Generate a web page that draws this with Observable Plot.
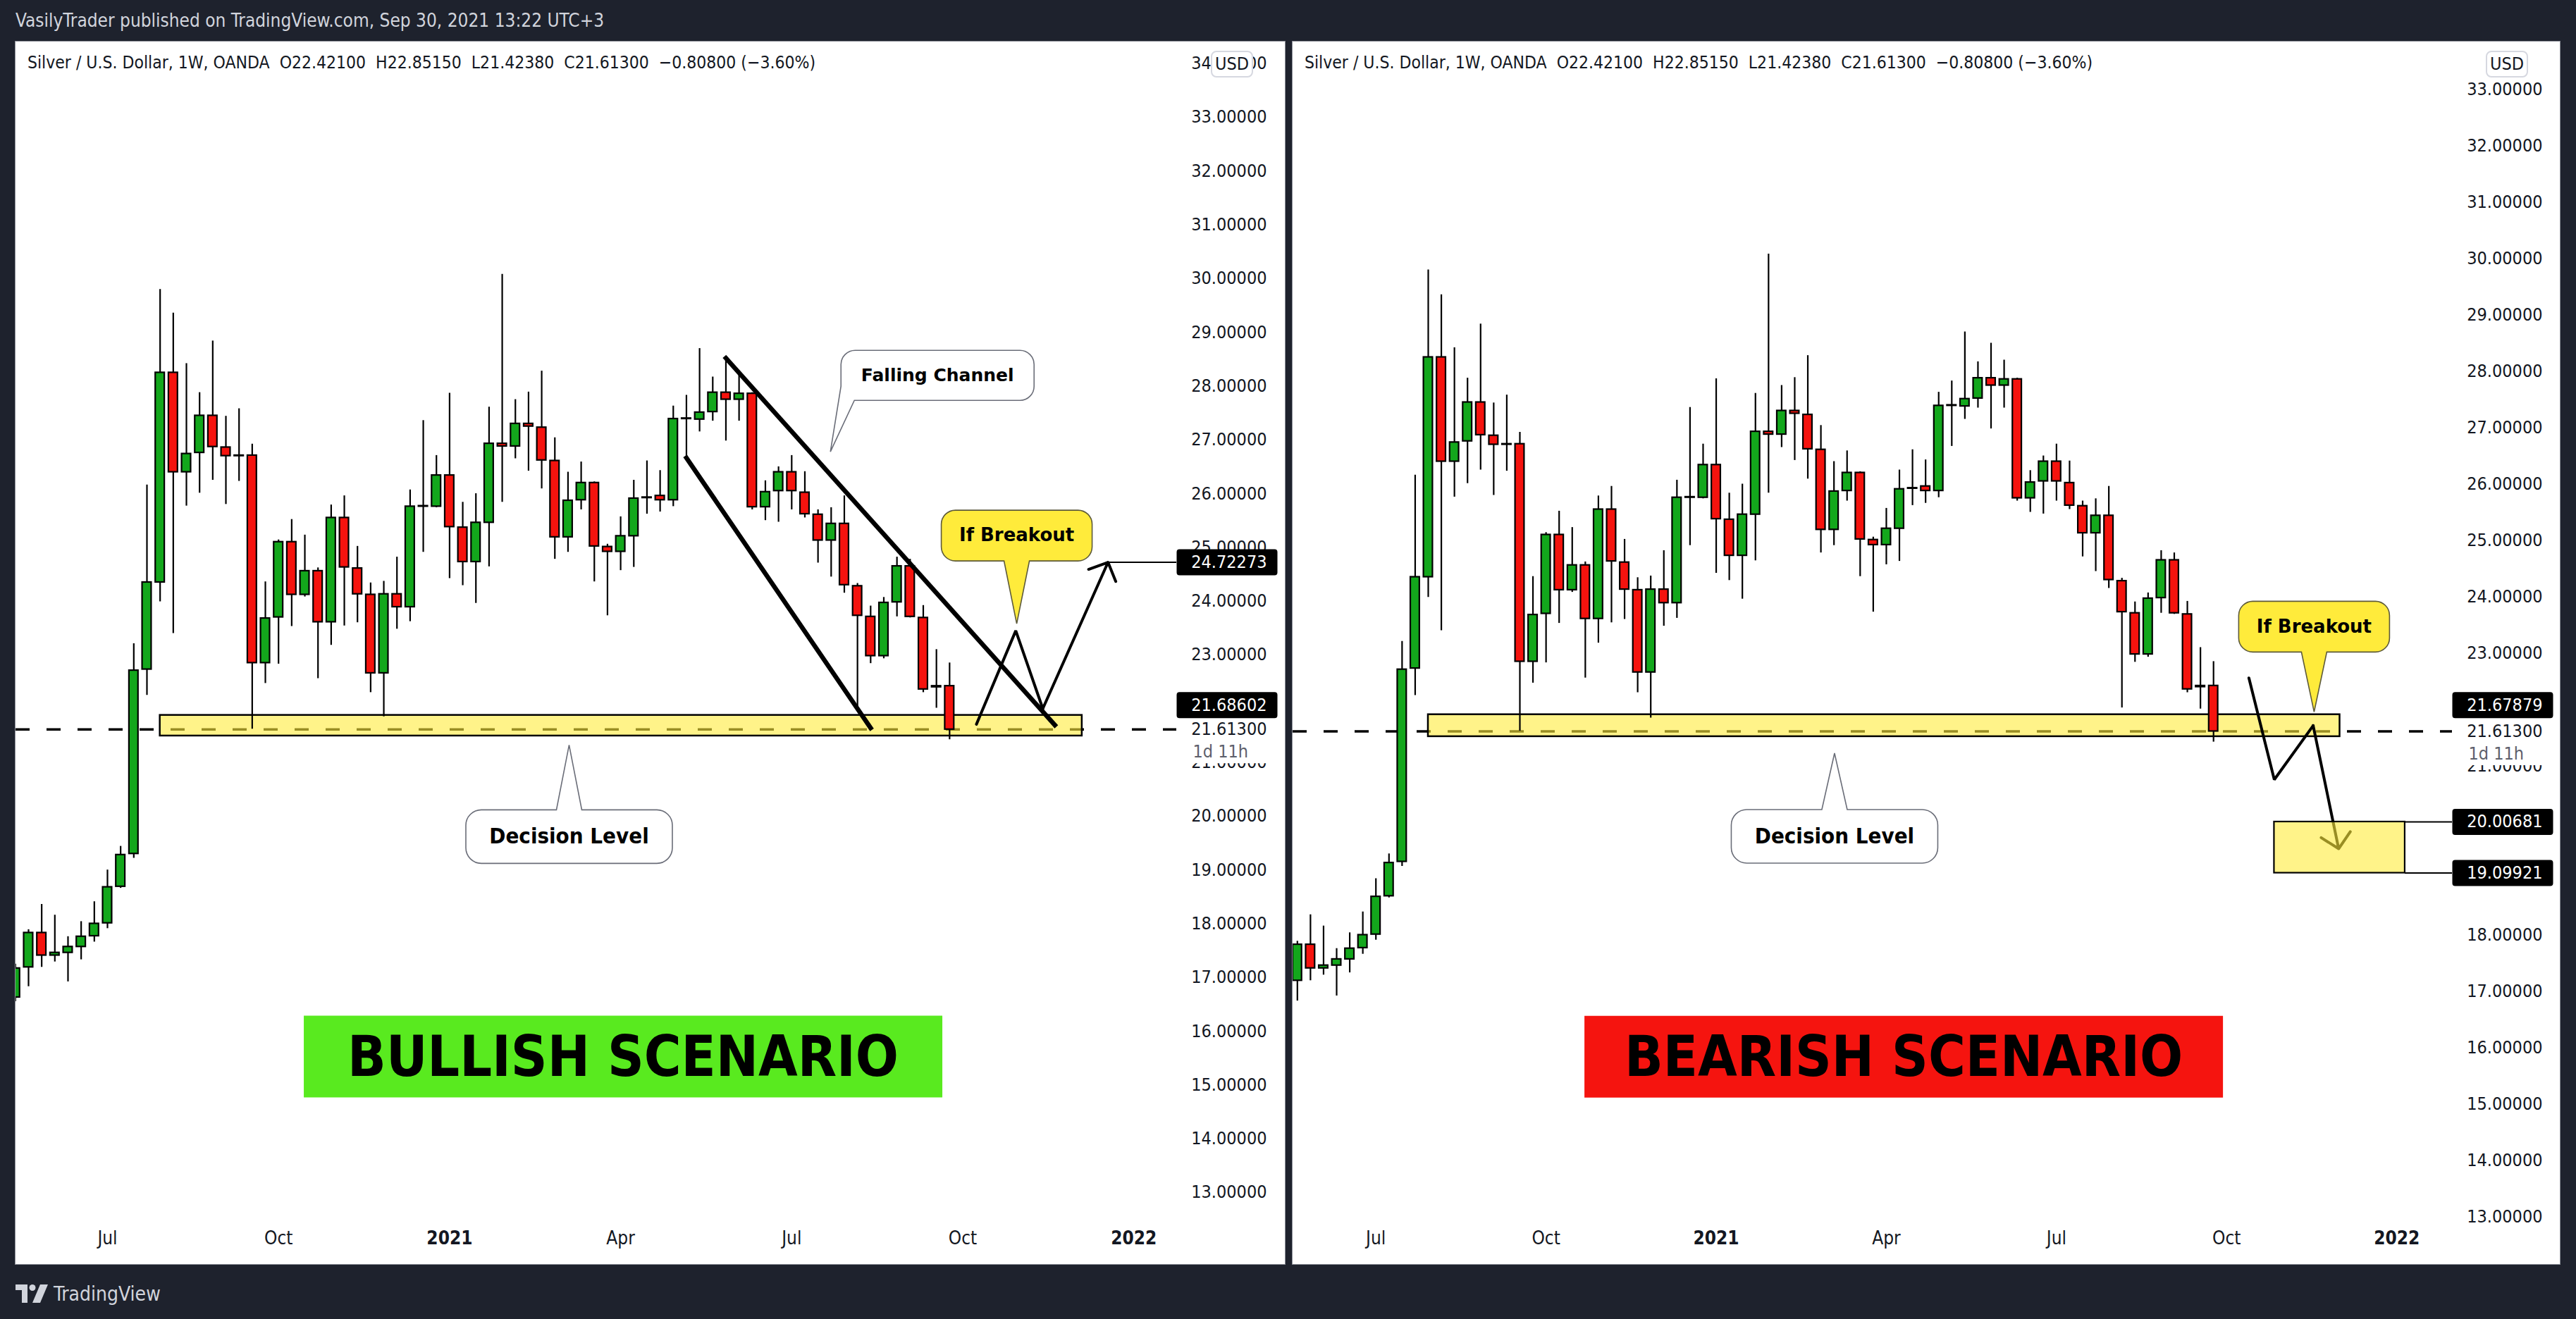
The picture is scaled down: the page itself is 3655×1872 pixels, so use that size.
<!DOCTYPE html>
<html><head><meta charset="utf-8">
<script src="https://cdn.jsdelivr.net/npm/d3@7"></script>
<script src="https://cdn.jsdelivr.net/npm/@observablehq/plot@0.6"></script>
<style>
html,body{margin:0;padding:0;}
body{width:3655px;height:1872px;background:#1e222d;position:relative;overflow:hidden;font-family:"DejaVu Sans Condensed","DejaVu Sans",sans-serif;}
.hdr{position:absolute;left:22px;top:14px;font-size:26px;color:#d1d4dc;white-space:pre;}
.panel{position:absolute;top:59px;height:1735px;background:#fff;outline:1px solid #8b8e97;overflow:hidden;}
.panel svg{position:absolute;left:0;top:0;}
.legend{position:absolute;left:17px;top:15px;font-size:24.5px;color:#131722;white-space:pre;z-index:2;}
.usd{position:absolute;top:13px;right:45px;width:60px;height:38px;box-sizing:border-box;border:2px solid #d6d8e0;border-radius:8px;font-size:25px;text-align:center;line-height:34px;background:#fff;color:#131722;z-index:2;}
.foot{position:absolute;left:22px;top:1818px;height:36px;color:#d1d4dc;font-size:28px;display:flex;align-items:center;gap:8px;}
</style></head><body>
<div class="hdr">VasilyTrader published on TradingView.com, Sep 30, 2021 13:22 UTC+3</div>
<div class="panel" id="pl" style="left:22px;width:1801px;">
  <div class="legend">Silver / U.S. Dollar, 1W, OANDA  O22.42100  H22.85150  L21.42380  C21.61300  −0.80800 (−3.60%)</div>
  <div class="usd">USD</div>
</div>
<div class="panel" id="pr" style="left:1834px;width:1798px;">
  <div class="legend">Silver / U.S. Dollar, 1W, OANDA  O22.42100  H22.85150  L21.42380  C21.61300  −0.80800 (−3.60%)</div>
  <div class="usd">USD</div>
</div>
<div class="foot">
  <svg width="46" height="26" viewBox="0 0 46 26"><path d="M0 0H17V26H9V8H0Z" fill="#d1d4dc"/><circle cx="24" cy="4.5" r="4.5" fill="#d1d4dc"/><path d="M35 0H46L35 26H24Z" fill="#d1d4dc"/></svg>
  <span>TradingView</span>
</div>
<script>
// ---------- data ----------
const weeks = ["2020-05-18","2020-05-25","2020-06-01","2020-06-08","2020-06-15","2020-06-22","2020-06-29","2020-07-06","2020-07-13","2020-07-20","2020-07-27","2020-08-03","2020-08-10","2020-08-17","2020-08-24","2020-08-31","2020-09-07","2020-09-14","2020-09-21","2020-09-28","2020-10-05","2020-10-12","2020-10-19","2020-10-26","2020-11-02","2020-11-09","2020-11-16","2020-11-23","2020-11-30","2020-12-07","2020-12-14","2020-12-21","2020-12-28",
"2021-01-04","2021-01-11","2021-01-18","2021-01-25","2021-02-01","2021-02-08","2021-02-15","2021-02-22","2021-03-01","2021-03-08","2021-03-15","2021-03-22","2021-03-29","2021-04-05","2021-04-12","2021-04-19","2021-04-26","2021-05-03","2021-05-10","2021-05-17","2021-05-24","2021-05-31","2021-06-07","2021-06-14","2021-06-21","2021-06-28","2021-07-05","2021-07-12","2021-07-19","2021-07-26","2021-08-02","2021-08-09","2021-08-16","2021-08-23","2021-08-30","2021-09-06","2021-09-13","2021-09-20","2021-09-27"];
const opens  = [16.63,17.19,17.83,17.41,17.46,17.57,17.77,18.01,18.69,19.30,22.73,24.35,28.25,26.40,26.76,27.45,26.86,26.70,26.71,22.85,23.70,25.10,24.12,24.56,23.61,25.55,24.61,24.12,22.66,24.13,23.89,25.76,25.76,
26.34,25.37,24.73,25.46,26.93,26.88,27.30,27.23,26.61,25.19,25.88,26.20,25.01,24.92,25.21,25.92,25.96,25.88,27.39,27.38,27.52,27.88,27.75,27.86,25.75,26.05,26.40,26.02,25.61,25.13,25.44,24.28,23.71,22.98,23.98,24.65,23.69,22.40,22.421];
const highs  = [17.25,17.89,18.36,18.16,17.76,18.04,18.41,19.00,19.44,23.21,26.16,29.80,29.36,28.42,27.88,28.84,27.44,27.58,26.92,24.36,25.14,25.52,25.23,24.62,25.79,25.96,25.02,24.34,24.37,24.82,26.07,27.36,26.71,
27.87,25.84,26.00,27.61,30.08,27.75,27.89,28.28,27.04,26.40,26.59,26.22,25.06,25.57,26.25,26.61,26.43,27.63,27.83,28.70,28.17,28.50,28.20,27.88,26.24,26.50,26.71,26.41,25.70,25.74,25.96,24.33,23.91,24.07,24.82,24.78,23.92,23.10,22.8515];
const lows   = [16.55,16.83,17.19,17.29,16.92,17.33,17.66,17.91,18.66,19.22,22.25,23.99,23.40,25.77,26.01,26.25,25.80,26.23,21.62,22.47,22.83,23.53,24.08,22.56,23.18,23.54,23.60,22.30,21.85,23.48,23.62,24.91,25.74,
24.42,24.29,23.96,24.64,25.84,26.65,26.42,26.09,24.78,24.91,25.70,24.36,23.73,24.57,24.63,25.62,25.66,25.76,26.67,27.15,27.35,26.98,27.35,25.70,25.50,25.47,25.70,25.55,24.71,24.45,24.15,22.03,22.84,22.93,23.71,23.69,22.30,22.01,21.4238];
const closes = [17.17,17.83,17.41,17.46,17.57,17.76,18.00,18.68,19.28,22.71,24.35,28.25,26.40,26.74,27.45,26.87,26.70,26.71,22.85,23.68,25.10,24.12,24.56,23.61,25.55,24.63,24.13,22.66,24.13,23.89,25.76,25.77,26.34,
25.38,24.73,25.46,26.93,26.88,27.30,27.25,26.62,25.19,25.87,26.20,25.02,24.92,25.21,25.91,25.93,25.88,27.39,27.40,27.51,27.88,27.75,27.86,25.75,26.03,26.40,26.05,25.62,25.13,25.44,24.30,23.73,22.98,23.97,24.65,23.71,22.36,22.42,21.613];

const timeTickDates  = ["2020-07-06","2020-10-05","2021-01-04","2021-04-05","2021-07-05","2021-10-04","2022-01-03"];
const timeTickLabels = ["Jul","Oct","2021","Apr","Jul","Oct","2022"];
const lastClose = 21.613;
const countdown = "1d 11h";

// left panel drawings
const leftChannelUpper = [{date:"2021-05-31", price:28.52},{date:"2021-11-22", price:21.695}];
const leftChannelLower = [{date:"2021-05-10", price:26.666},{date:"2021-08-16", price:21.64}];
const leftZigzag = [{date:"2021-10-11T07:00Z", price:21.71},{date:"2021-11-01T05:00Z", price:23.45},{date:"2021-11-15T14:00Z", price:22.00}];
const leftArrowEnd = {date:"2021-12-20T07:00Z", price:24.72273};
const leftZone = {start:"2020-08-03", end:"2021-12-06T12:00Z", top:21.877, bottom:21.493};
const leftLabels = [{price:24.72273, shift:0},{price:21.68602, shift:-29}];
const leftCallouts = [
  {text:"Falling Channel", date:"2021-09-20T14:00Z", price:28.20, shape:"falling"},
  {text:"If Breakout", date:"2021-11-01T17:00Z", price:25.22, shape:"breakoutL"},
  {text:"Decision Level", date:"2021-03-08T14:00Z", price:19.62, shape:"decisionL"}
];
const leftScenario = {text:"BULLISH SCENARIO", date:"2021-04-06T07:00Z", price:15.53, color:"#59ea1f"};

// right panel drawings
const rightZigzag = [{date:"2021-10-15T22:00Z", price:22.56},{date:"2021-10-29T12:00Z", price:20.756},{date:"2021-11-19T07:00Z", price:21.715}];
const rightArrowEnd = {date:"2021-12-02T22:00Z", price:19.531};
const rightZone = {start:"2020-08-03", end:"2021-12-03T14:00Z", top:21.91, bottom:21.52};
const rightTarget = {start:"2021-10-29T12:00Z", end:"2022-01-07T10:00Z", top:20.00681, bottom:19.09921};
const rightLabels = [{price:21.67879, shift:-32},{price:20.00681, shift:0},{price:19.09921, shift:0}];
const rightCallouts = [
  {text:"If Breakout", date:"2021-11-19T19:00Z", price:23.47, shape:"breakoutR"},
  {text:"Decision Level", date:"2021-03-08T07:00Z", price:19.75, shape:"decisionR"}
];
const rightScenario = {text:"BEARISH SCENARIO", date:"2021-04-14T07:00Z", price:15.84, color:"#f5140f"};

// ---------- styles ----------
const GREEN = "#13a71c", RED = "#f5130e";
const COND = "DejaVu Sans Condensed, DejaVu Sans, sans-serif";
const shapes = {
  falling:   [[-137,-35.5,20],[137,-35.5,20],[137,35.5,20],[-118,35.5,0],[-152,108.5,0],[-137,15.5,0]],
  breakoutL: [[-107,-36,20],[107,-36,20],[107,36,20],[18,36,0],[0,125,0],[-18,36,0],[-107,36,20]],
  breakoutR: [[-107,-36,20],[107,-36,20],[107,36,20],[18,36,0],[0,121,0],[-18,36,0],[-107,36,20]],
  decisionL: [[-146.5,-38,22],[-18,-38,0],[0,-130,0],[18,-38,0],[146.5,-38,22],[146.5,38,22],[-146.5,38,22]],
  decisionR: [[-146.5,-38,22],[-18,-38,0],[0,-118,0],[18,-38,0],[146.5,-38,22],[146.5,38,22],[-146.5,38,22]]
};
const shapeStyle = {
  falling:   {fill:"#ffffff", stroke:"#6a6d78", font:"DejaVu Sans", size:25},
  breakoutL: {fill:"#ffeb3b", stroke:"#5d5a3a", font:"DejaVu Sans", size:26},
  breakoutR: {fill:"#ffeb3b", stroke:"#5d5a3a", font:"DejaVu Sans", size:26},
  decisionL: {fill:"#ffffff", stroke:"#6a6d78", font:COND, size:31},
  decisionR: {fill:"#ffffff", stroke:"#6a6d78", font:COND, size:31}
};

function polySymbol(pts){
  return {draw(ctx){
    const n = pts.length, a = pts[n-1], b = pts[0];
    ctx.moveTo((a[0]+b[0])/2, (a[1]+b[1])/2);
    for (let i = 0; i < n; i++) {
      const p = pts[i], q = pts[(i+1)%n];
      if (p[2]) ctx.arcTo(p[0], p[1], q[0], q[1], p[2]); else ctx.lineTo(p[0], p[1]);
    }
    ctx.closePath();
  }};
}
function boxSymbol(x0, x1, y0, y1, r){
  return polySymbol([[x0,y0,r],[x1,y0,r],[x1,y1,r],[x0,y1,r]]);
}
const D = s => new Date(s.length <= 10 ? s + "T00:00Z" : s);
const fmt5 = d3.format(".5f");

const rows = weeks.map((w,i) => ({date:D(w), open:opens[i], high:highs[i], low:lows[i], close:closes[i]}));
const timeTicks = timeTickDates.map((d,i) => ({date:D(d), label:timeTickLabels[i], year:/^\d{4}$/.test(timeTickLabels[i])}));

const PLOT_H = 1735, MB = 60;

function panel(cfg){
  const xEnd = D(cfg.xDomain[1]);
  const [y0, y1] = cfg.yDomain;
  const ppu = (PLOT_H - MB) / (y1 - y0);
  const py = v => (y1 - v) * ppu;
  const marks = [];
  // current price line
  marks.push(Plot.ruleY([lastClose], {y:d=>d, stroke:"#000", strokeWidth:3.5, strokeDasharray:"20,24"}));
  // decision zone
  const z = cfg.zone;
  marks.push(Plot.rect([z], {x1:d=>D(d.start), x2:d=>D(d.end), y1:"bottom", y2:"top", fill:"#ffeb3b", fillOpacity:0.6, stroke:"#000", strokeWidth:2.5}));
  // candles
  marks.push(Plot.ruleX(rows, {x:"date", y1:"low", y2:"high", stroke:"#000", strokeWidth:2.2}));
  marks.push(Plot.rect(rows, {x1:d=>d3.utcHour.offset(d.date,-58), x2:d=>d3.utcHour.offset(d.date,58), y1:"open", y2:"close",
    fill:d=>d.close>=d.open?GREEN:RED, stroke:"#000", strokeWidth:2.2}));
  // channel
  for (const ch of cfg.channels || []) {
    marks.push(Plot.line(ch, {x:d=>D(d.date), y:"price", stroke:"#000", strokeWidth:6.5, strokeLinecap:"square"}));
  }
  // zigzag + arrow
  const zz = cfg.zigzag, last = zz[zz.length-1], end = cfg.arrowEnd;
  marks.push(Plot.line(zz, {x:d=>D(d.date), y:"price", stroke:"#000", strokeWidth:4, strokeLinejoin:"miter"}));
  marks.push(Plot.arrow([{a:last, b:end}], {x1:d=>D(d.a.date), y1:d=>d.a.price, x2:d=>D(d.b.date), y2:d=>d.b.price,
    stroke:"#000", strokeWidth:4, headLength:11, headAngle:92}));
  if (cfg.arrowConnector) {
    marks.push(Plot.ruleY([end], {y:"price", x1:d=>D(d.date), x2:()=>xEnd, stroke:"#000", strokeWidth:2}));
  }
  // target box
  if (cfg.target) {
    const t = cfg.target;
    marks.push(Plot.ruleY([t.top, t.bottom], {y:d=>d, x1:()=>D(t.end), x2:()=>xEnd, stroke:"#000", strokeWidth:2}));
    marks.push(Plot.rect([t], {x1:d=>D(d.start), x2:d=>D(d.end), y1:"bottom", y2:"top", fill:"#ffeb3b", fillOpacity:0.6, stroke:"#000", strokeWidth:2.2}));
  }
  // callouts
  for (const c of cfg.callouts) {
    const st = shapeStyle[c.shape];
    marks.push(Plot.dot([c], {x:d=>D(d.date), y:"price", symbol:polySymbol(shapes[c.shape]), fill:st.fill, stroke:st.stroke, strokeWidth:1.6}));
    marks.push(Plot.text([c], {x:d=>D(d.date), y:"price", text:"text", fontFamily:st.font, fontSize:st.size, fontWeight:"bold", fill:"#000"}));
  }
  // scenario banner
  const s = cfg.scenario;
  marks.push(Plot.dot([s], {x:d=>D(d.date), y:"price", symbol:boxSymbol(-453,453,-58,58,0), fill:s.color, stroke:"none"}));
  marks.push(Plot.text([s], {x:d=>D(d.date), y:"price", text:"text", fontFamily:COND, fontWeight:"bold", fontSize:80, fill:"#000", dy:2}));
  // price scale labels (skip those fully covered by a label box)
  const ticks = d3.range(13, 35)
    .filter(v => v >= y0 && v <= y1)
    .filter(v => !cfg.labels.some(l => Math.abs(py(v) - (py(l.price) + l.shift)) < 12));
  marks.push(Plot.text(ticks, {y:d=>d, text:d=>fmt5(d), frameAnchor:"right", textAnchor:"end", dx:128, fontFamily:COND, fontSize:25, fill:"#131722"}));
  // current price label (white)
  marks.push(Plot.dot([lastClose], {y:d=>d, frameAnchor:"right", symbol:boxSymbol(0,143,-16,48,0), fill:"#fff", stroke:"none"}));
  marks.push(Plot.text([lastClose], {y:d=>d, text:d=>fmt5(d), frameAnchor:"right", textAnchor:"end", dx:128, fontFamily:COND, fontSize:25, fill:"#131722"}));
  marks.push(Plot.text([countdown], {y:()=>lastClose, text:d=>d, frameAnchor:"right", textAnchor:"start", dx:23, dy:32, fontFamily:COND, fontSize:25, fill:"#5d606b"}));
  // black price labels
  for (const l of cfg.labels) {
    marks.push(Plot.dot([l], {y:"price", frameAnchor:"right", dy:l.shift, symbol:boxSymbol(0,143,-18.5,18.5,4), fill:"#000", stroke:"none"}));
    marks.push(Plot.text([l], {y:"price", text:d=>fmt5(d.price), frameAnchor:"right", textAnchor:"end", dx:128, dy:l.shift, fontFamily:COND, fontSize:25, fill:"#fff"}));
  }
  // time axis
  marks.push(Plot.text(timeTicks.filter(d=>!d.year), {x:"date", text:"label", frameAnchor:"bottom", dy:31, fontFamily:COND, fontSize:26, fill:"#131722"}));
  marks.push(Plot.text(timeTicks.filter(d=>d.year), {x:"date", text:"label", frameAnchor:"bottom", dy:31, fontFamily:COND, fontSize:26, fontWeight:"bold", fill:"#131722"}));

  return Plot.plot({
    width: cfg.width, height: PLOT_H,
    marginTop: 0, marginLeft: 0, marginRight: cfg.marginRight, marginBottom: MB,
    x: {type:"utc", domain: cfg.xDomain.map(D), axis: null},
    y: {domain: cfg.yDomain, axis: null},
    style: {background:"transparent"},
    marks
  });
}

document.getElementById("pl").appendChild(panel({
  width:1801, marginRight:154,
  xDomain:["2020-05-18T06:15Z","2022-01-25T19:00Z"], yDomain:[12.449, 34.402],
  zone:leftZone, channels:[leftChannelUpper, leftChannelLower],
  zigzag:leftZigzag, arrowEnd:leftArrowEnd, arrowConnector:true,
  callouts:leftCallouts, scenario:leftScenario, labels:leftLabels
}));
document.getElementById("pr").appendChild(panel({
  width:1798, marginRight:153,
  xDomain:["2020-05-22T15:00Z","2022-02-01T17:00Z"], yDomain:[12.906, 33.844],
  zone:rightZone, zigzag:rightZigzag, arrowEnd:rightArrowEnd, arrowConnector:false, target:rightTarget,
  callouts:rightCallouts, scenario:rightScenario, labels:rightLabels
}));
</script>
</body></html>
